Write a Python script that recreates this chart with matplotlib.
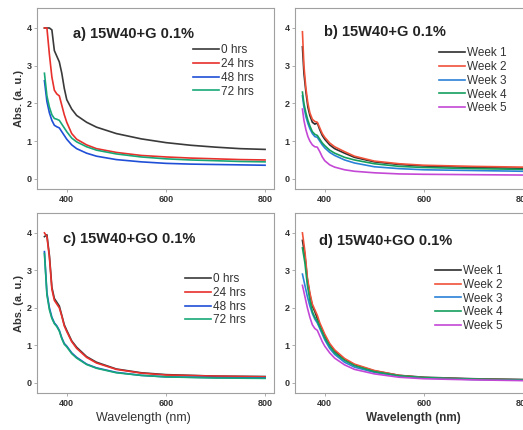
import matplotlib
matplotlib.use("Agg")
import matplotlib.pyplot as plt

plt.rcParams['font.family'] = ['Liberation Sans', 'DejaVu Sans']

# ---- data ----
# a) 15W40+G 0.1%, hours
wl_a = [355, 360, 365, 370, 375, 380, 385, 390, 395, 400, 410, 420, 440, 460, 500, 550, 600, 650, 700, 750, 800]
a_0h = [4.0, 4.0, 4.0, 3.95, 3.4, 3.25, 3.1, 2.8, 2.4, 2.1, 1.85, 1.68, 1.5, 1.37, 1.2, 1.06, 0.96, 0.89, 0.84, 0.8, 0.78]
a_24h = [4.0, 4.0, 3.3, 2.7, 2.35, 2.25, 2.2, 1.95, 1.7, 1.5, 1.2, 1.05, 0.9, 0.8, 0.7, 0.62, 0.58, 0.55, 0.53, 0.51, 0.5]
a_48h = [2.6, 2.05, 1.75, 1.55, 1.42, 1.38, 1.35, 1.25, 1.15, 1.05, 0.9, 0.8, 0.68, 0.6, 0.51, 0.45, 0.41, 0.39, 0.38, 0.37, 0.36]
a_72h = [2.8, 2.2, 1.9, 1.7, 1.6, 1.58, 1.55, 1.45, 1.35, 1.25, 1.08, 0.98, 0.85, 0.76, 0.66, 0.58, 0.53, 0.5, 0.48, 0.46, 0.45]

# b) 15W40+G 0.1%, weeks
wl_b = [355, 358, 362, 366, 370, 375, 380, 385, 390, 395, 400, 410, 420, 440, 460, 500, 550, 600, 700, 800]
b_w1 = [3.5, 2.8, 2.3, 1.9, 1.68, 1.5, 1.45, 1.48, 1.3, 1.15, 1.05, 0.9, 0.8, 0.68, 0.57, 0.45, 0.38, 0.34, 0.3, 0.28]
b_w2 = [3.9, 3.0, 2.4, 2.0, 1.75, 1.58, 1.52, 1.5, 1.35, 1.2, 1.1, 0.95, 0.85, 0.72, 0.6, 0.47, 0.4, 0.36, 0.33, 0.31]
b_w3 = [2.2, 1.9, 1.65, 1.47, 1.33, 1.2, 1.12, 1.1, 1.0, 0.9, 0.82, 0.7, 0.62, 0.5, 0.42, 0.32, 0.27, 0.24, 0.22, 0.2]
b_w4 = [2.3, 2.0, 1.75, 1.55, 1.4, 1.25, 1.18, 1.15, 1.05, 0.95, 0.88, 0.76, 0.68, 0.57, 0.5, 0.4, 0.33, 0.3, 0.27, 0.25]
b_w5 = [1.85, 1.55, 1.3, 1.12, 1.0, 0.9, 0.85, 0.84, 0.72, 0.58, 0.48, 0.37, 0.31, 0.24, 0.2, 0.16, 0.13, 0.12, 0.11, 0.1]

# c) 15W40+GO 0.1%, hours
wl_c = [355, 360, 365, 370, 375, 380, 385, 390, 395, 400, 410, 420, 440, 460, 500, 550, 600, 700, 800]
c_0h = [3.9, 3.95, 3.4, 2.55, 2.25, 2.15, 2.05, 1.8, 1.55, 1.4, 1.12, 0.95, 0.7, 0.55, 0.37, 0.27, 0.22, 0.18, 0.17]
c_24h = [4.0, 3.9, 3.35, 2.5, 2.2, 2.1, 2.0, 1.78, 1.52, 1.37, 1.1, 0.92, 0.68, 0.53, 0.36, 0.26, 0.21, 0.18, 0.16]
c_48h = [3.5, 2.4, 2.0, 1.75, 1.6, 1.52, 1.4, 1.2, 1.05, 0.98, 0.8, 0.68, 0.5, 0.4, 0.28, 0.2, 0.16, 0.14, 0.13]
c_72h = [3.45, 2.35, 1.95, 1.72, 1.58, 1.5, 1.38, 1.18, 1.03, 0.96, 0.78, 0.66, 0.49, 0.39, 0.27, 0.2, 0.16, 0.13, 0.12]

# d) 15W40+GO 0.1%, weeks
wl_d = [355, 360, 365, 370, 375, 380, 385, 390, 395, 400, 410, 420, 440, 460, 500, 550, 600, 700, 800]
d_w1 = [3.8, 3.4, 2.75, 2.35, 2.05, 1.9, 1.72, 1.55, 1.4, 1.25, 1.02, 0.85, 0.62, 0.48, 0.32, 0.2, 0.15, 0.11, 0.09]
d_w2 = [4.0, 3.5, 2.8, 2.4, 2.1, 1.95, 1.8, 1.6, 1.45, 1.3, 1.05, 0.88, 0.65, 0.5, 0.33, 0.2, 0.14, 0.1, 0.08]
d_w3 = [2.9, 2.6, 2.3, 2.05, 1.85, 1.7, 1.6, 1.45, 1.3, 1.15, 0.92, 0.76, 0.55, 0.42, 0.28, 0.18, 0.13, 0.09, 0.07]
d_w4 = [3.6, 3.2, 2.6, 2.2, 1.9, 1.75, 1.65, 1.5, 1.35, 1.2, 0.98, 0.8, 0.6, 0.46, 0.3, 0.19, 0.14, 0.1, 0.08]
d_w5 = [2.6, 2.3, 2.0, 1.75, 1.55, 1.45, 1.4, 1.25, 1.1, 0.98, 0.8, 0.66, 0.48, 0.36, 0.24, 0.15, 0.11, 0.08, 0.06]

hour_labels = ['0 hrs', '24 hrs', '48 hrs', '72 hrs']
week_labels = ['Week 1', 'Week 2', 'Week 3', 'Week 4', 'Week 5']
hour_colors = ['#3a3a3a', '#e8302c', '#1f4fd6', '#18a878']
week_colors = ['#2e2e2e', '#f0523a', '#2a82d8', '#14a05c', '#c448d6']

W, H = 523, 430
fig = plt.figure(figsize=(W / 100, H / 100), dpi=100)


def px_axes(left, top, right, bottom):
    # pixel box -> figure fraction
    return fig.add_axes([left / W, 1 - bottom / H, (right - left) / W, (bottom - top) / H])


def style(ax):
    ax.set_xlim(340, 818)
    ax.set_ylim(-0.27, 4.53)
    ax.set_xticks([400, 600, 800])
    ax.set_yticks([0, 1, 2, 3, 4])
    for s in ax.spines.values():
        s.set_color('#a0a0a0')
        s.set_linewidth(0.8)
    ax.tick_params(direction='out', length=2, width=0.6, color='#a0a0a0',
                   labelsize=6.5, labelcolor='#333333', pad=2)
    for t in ax.get_xticklabels() + ax.get_yticklabels():
        t.set_fontweight('bold')


ax_a = px_axes(37, 8, 274, 189)
ax_b = px_axes(295, 8, 532, 189)
ax_c = px_axes(37, 213, 274, 393)
ax_d = px_axes(295, 213, 532, 393)

panels = [
    (ax_a, wl_a, [a_0h, a_24h, a_48h, a_72h], hour_labels, hour_colors,
     'a) 15W40+G 0.1%', (0.152, 0.855), (0.658, 0.80)),
    (ax_b, wl_b, [b_w1, b_w2, b_w3, b_w4, b_w5], week_labels, week_colors,
     'b) 15W40+G 0.1%', (0.122, 0.87), (0.608, 0.783)),
    (ax_c, wl_c, [c_0h, c_24h, c_48h, c_72h], hour_labels, hour_colors,
     'c) 15W40+GO 0.1%', (0.11, 0.855), (0.624, 0.666)),
    (ax_d, wl_d, [d_w1, d_w2, d_w3, d_w4, d_w5], week_labels, week_colors,
     'd) 15W40+GO 0.1%', (0.10, 0.845), (0.59, 0.711)),
]

for ax, wl, series, labels, colors, title, tpos, lpos in panels:
    for ys, lab, col in zip(series, labels, colors):
        ax.plot(wl, ys, color=col, lw=1.2, label=lab)
    style(ax)
    ax.text(tpos[0], tpos[1], title, transform=ax.transAxes, fontsize=10.5,
            fontweight='bold', color='#222222', va='center', ha='left')
    leg = ax.legend(loc='upper left', bbox_to_anchor=lpos, frameon=False,
                    fontsize=8.5, handlelength=2.2, handletextpad=0.2,
                    labelspacing=0.15, borderpad=0, borderaxespad=0)
    for t in leg.get_texts():
        t.set_color('#333333')

# axis labels
ax_a.set_ylabel('Abs. (a. u.)', fontsize=8, fontweight='bold', color='#333333', labelpad=2)
ax_c.set_ylabel('Abs. (a. u.)', fontsize=8, fontweight='bold', color='#333333', labelpad=2)
ax_c.set_xlabel('Wavelength (nm)', fontsize=9, color='#333333', labelpad=3, x=0.45)
ax_d.set_xlabel('Wavelength (nm)', fontsize=8.5, fontweight='bold', color='#333333', labelpad=3)

fig.savefig('out.png', dpi=100)
